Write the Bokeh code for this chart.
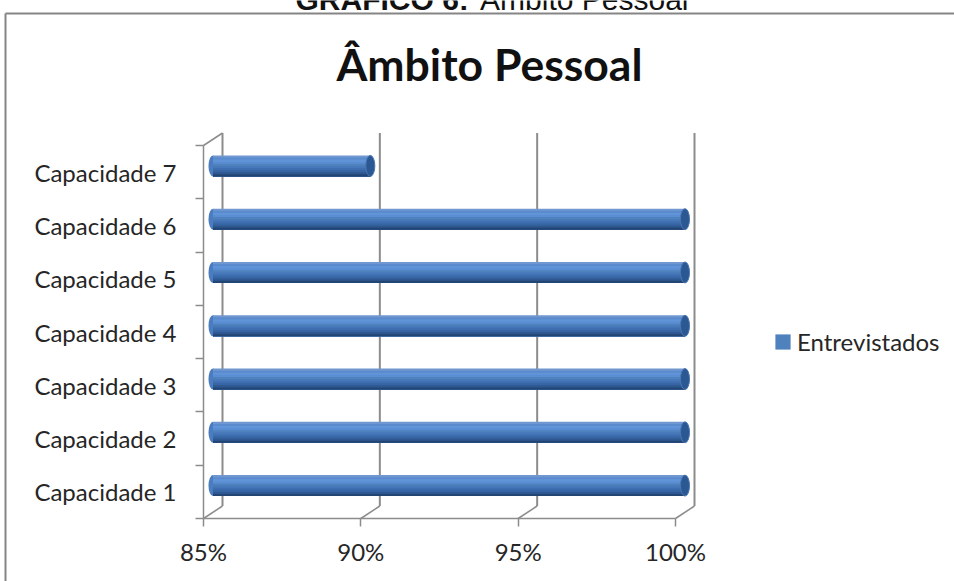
from bokeh.plotting import figure
from bokeh.models import (Range1d, FixedTicker, Label, Legend, LegendItem,
                          ColumnDataSource)
from bokeh.embed import file_html
from bokeh.resources import INLINE

# ---------------- data ----------------
categories = ["Capacidade 1", "Capacidade 2", "Capacidade 3", "Capacidade 4",
              "Capacidade 5", "Capacidade 6", "Capacidade 7"]
entrevistados = [100, 100, 100, 100, 100, 100, 90]
x_ticks = [85, 90, 95, 100]
x_tick_labels = ["85%", "90%", "95%", "100%"]
series_name = "Entrevistados"
chart_title = "Âmbito Pessoal"
caption_bold = "GRÁFICO 6:"
caption_rest = "Âmbito Pessoal"

# ---------------- geometry / style ----------------
W, H = 954, 581
AX_LEFT_PX, AX_BOTTOM_PX = 203, 518            # front axes position (canvas px)
X_MIN, X_MAX = x_ticks[0], x_ticks[-1]
n = len(categories)
PX_X = (675 - AX_LEFT_PX) / (X_MAX - X_MIN)     # px per % on front plane
PX_Y = (AX_BOTTOM_PX - 145) / n                 # px per category on front plane
DEPTH_X = 19 / PX_X                             # 3D depth offset (data units)
DEPTH_Y = 12.5 / PX_Y
BAR_PX = 21
BAR_H = BAR_PX / PX_Y
GRID = "#8c8c8c"
FONT = "Lato"
TXT = "#262626"
STRIPS = ["#7097cf", "#5b8bcf", "#6195d8", "#5a8ed4", "#4f81bd",
          "#4778ba", "#3f6eb0", "#3764a3", "#2e5891", "#234574"]

x_start = X_MIN - AX_LEFT_PX / PX_X
y_start = -(H - AX_BOTTOM_PX) / PX_Y


def px_x(px):
    return x_start + px / PX_X


def px_y(py):
    return y_start + (H - py) / PX_Y


p = figure(width=W, height=H, output_backend="svg", toolbar_location=None,
           x_range=Range1d(x_start, x_start + W / PX_X),
           y_range=Range1d(y_start, y_start + H / PX_Y),
           min_border_left=0, min_border_top=0,
           min_border_right=0, min_border_bottom=0)
p.outline_line_color = None
p.xgrid.visible = False
p.ygrid.visible = False
p.background_fill_color = "white"
p.border_fill_color = "white"

# chart-area border (left and top edges visible)
p.segment(x0=[px_x(5), px_x(5)], y0=[px_y(13), px_y(13)],
          x1=[px_x(5), px_x(W + 20)], y1=[px_y(H + 20), px_y(13)],
          line_color="#858585", line_width=2)

# ---------------- 3D walls ----------------
p.segment(x0=[t + DEPTH_X for t in x_ticks], y0=[DEPTH_Y] * len(x_ticks),
          x1=[t + DEPTH_X for t in x_ticks], y1=[n + DEPTH_Y] * len(x_ticks),
          line_color=GRID, line_width=2)
p.segment(x0=x_ticks, y0=[0] * len(x_ticks),
          x1=[t + DEPTH_X for t in x_ticks], y1=[DEPTH_Y] * len(x_ticks),
          line_color=GRID, line_width=1.5)
p.segment(x0=[X_MIN], y0=[n], x1=[X_MIN + DEPTH_X], y1=[n + DEPTH_Y],
          line_color=GRID, line_width=1.5)

# ---------------- cylinders ----------------
ys = [i + 0.5 + DEPTH_Y / 2 for i in range(n)]
lefts = [X_MIN + DEPTH_X / 2] * n
rights = [v + DEPTH_X / 2 for v in entrevistados]

p.ellipse(x=lefts, y=ys, width=9, height=BAR_PX, width_units="screen",
          height_units="screen", fill_color="#4a7cbf", line_color=None)
legend_renderer = None
N = len(STRIPS)
for k, col in enumerate(STRIPS):
    tops = [y + BAR_H / 2 - k * BAR_H / N for y in ys]
    bots = [y - BAR_H / 2 for y in ys]
    src = ColumnDataSource(dict(
        y=[(a + b) / 2 for a, b in zip(tops, bots)],
        h=[a - b for a, b in zip(tops, bots)],
        left=lefts, right=rights))
    r = p.hbar(y="y", height="h", left="left", right="right", source=src,
               fill_color=col, line_color=None)
    if col == "#4f81bd":
        legend_renderer = r
p.ellipse(x=rights, y=ys, width=9, height=BAR_PX, width_units="screen",
          height_units="screen", fill_color="#2b5793", line_color="#4a76b2",
          line_width=1)

# ---------------- axes ----------------
xa = p.xaxis[0]
xa.fixed_location = 0
xa.ticker = FixedTicker(ticks=x_ticks)
xa.major_label_overrides = {t: s for t, s in zip(x_ticks, x_tick_labels)}
xa.bounds = (X_MIN, X_MAX)
xa.axis_line_color = GRID
xa.axis_line_width = 1.5
xa.major_tick_line_color = GRID
xa.major_tick_line_width = 1.5
xa.major_tick_out = 8
xa.major_tick_in = 0
xa.minor_tick_line_color = None
xa.major_label_standoff = 10
xa.major_label_text_font = FONT
xa.major_label_text_font_size = "24px"
xa.major_label_text_color = TXT

ya = p.yaxis[0]
ya.fixed_location = X_MIN
ya.ticker = FixedTicker(ticks=[i + 0.5 for i in range(n)],
                        minor_ticks=list(range(n + 1)))
ya.major_label_overrides = {i + 0.5: c for i, c in enumerate(categories)}
ya.bounds = (0, n)
ya.axis_line_color = GRID
ya.axis_line_width = 1.5
ya.major_tick_line_color = None
ya.major_tick_out = 0
ya.major_tick_in = 0
ya.minor_tick_line_color = GRID
ya.minor_tick_line_width = 1.5
ya.minor_tick_out = 8
ya.minor_tick_in = 0
ya.major_label_standoff = 19
ya.major_label_text_font = FONT
ya.major_label_text_font_size = "24px"
ya.major_label_text_color = TXT

# ---------------- legend ----------------
legend = Legend(items=[LegendItem(label=series_name, renderers=[legend_renderer])],
                location=(773, H - 356), glyph_width=19, glyph_height=19,
                label_standoff=5, padding=0, margin=0, border_line_color=None,
                background_fill_alpha=0, label_text_font=FONT,
                label_text_font_size="24px", label_text_color=TXT)
p.add_layout(legend, "center")

# ---------------- titles ----------------
p.add_layout(Label(x=489, y=H - 63, x_units="screen", y_units="screen",
                   text=chart_title, text_align="center", text_baseline="alphabetic",
                   text_font=FONT, text_font_style="bold", text_font_size="44.5px",
                   text_color="#111111"))
p.add_layout(Label(x=295, y=H + 1, x_units="screen", y_units="screen",
                   text=caption_bold, text_align="left", text_baseline="alphabetic",
                   text_font="Liberation Sans", text_font_style="bold",
                   text_font_size="30px", text_color="#111111"))
p.add_layout(Label(x=688, y=H + 1, x_units="screen", y_units="screen",
                   text=caption_rest, text_align="right", text_baseline="alphabetic",
                   text_font="Liberation Sans", text_font_size="30px",
                   text_color="#111111"))

open("out.html", "w").write(file_html(p, INLINE))
